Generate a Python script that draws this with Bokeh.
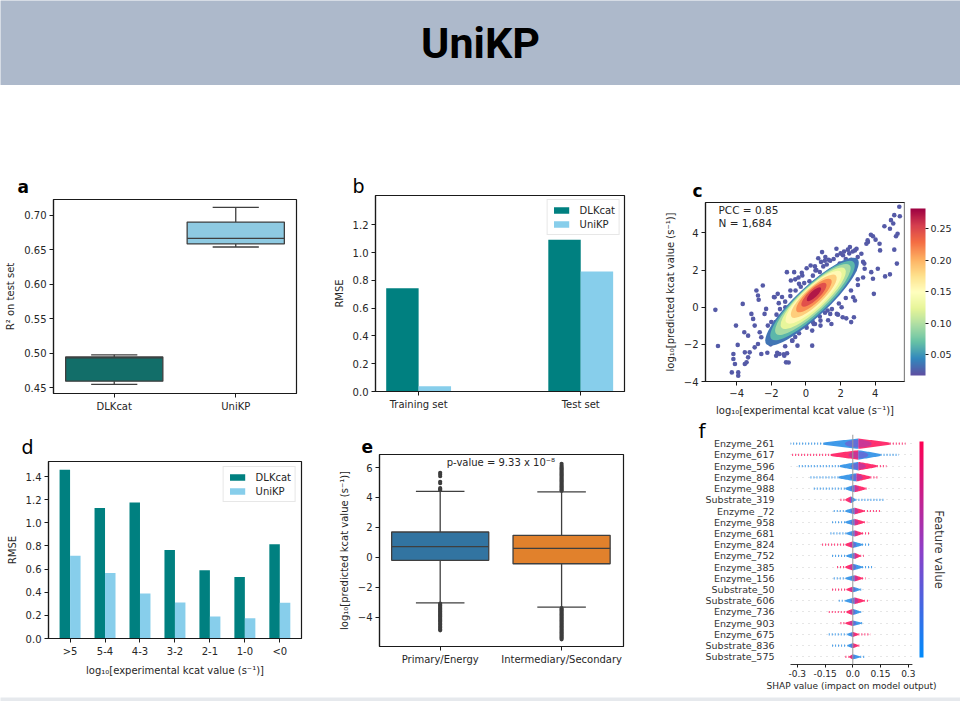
import numpy as np
from bokeh.plotting import figure
from bokeh.layouts import column, row
from bokeh.models import (Label, FixedTicker, ColorBar, LinearColorMapper, Span, Title,
                          ColumnDataSource, NumeralTickFormatter, LinearAxis, ScrollBox)
from bokeh.transform import linear_cmap
from bokeh.embed import file_html
from bokeh.resources import INLINE

FONT = "DejaVu Sans"
INK = "#1a1a1a"
TXT = "#262626"
EDGE = "#3f3f3f"

# ---------------- data ----------------
title_text = "UniKP"

# a: R2 boxplots
a_models = ["DLKcat", "UniKP"]
a_q1 = [0.4596, 0.6587]
a_med = [0.4935, 0.6668]
a_q3 = [0.4948, 0.6905]
a_lo = [0.4548, 0.6543]
a_hi = [0.4978, 0.7118]
a_colors = ["#126e69", "#8ecae2"]

# b: RMSE train / test
b_sets = ["Training set", "Test set"]
b_dlkcat = [0.743, 1.092]
b_unikp = [0.037, 0.863]

# c: density scatter
c_pcc = "0.85"
c_n = "1,684"
c_pts_x = [-5.23, -5.08, -4.28, -3.91, -3.91, -4.19, -4.19, -4.10, -4.04, -3.94,
           -3.53, -3.43, -3.34, -3.56, -3.34, -3.53, -3.25, -3.15, -3.05, -2.96,
           -2.86, -2.77, -2.73, -2.96, -2.77, -2.67, -2.58, -2.49, -2.39, -2.30,
           -2.20, -1.72, -1.53, -1.25, -1.15, -1.81, -1.63, -1.10, -0.68, -0.21,
           -0.87, -0.40, -0.78, -0.49, -2.11, -2.58, -3.65,
           5.39, 5.10, 5.42, 4.91, 5.04, 4.53, 4.85, 5.29, 5.20, 3.87,
           4.02, 4.25, 4.28, 3.58, 3.49, 5.10, 5.25, 4.15, 4.57, 4.85,
           3.92, 2.92, 3.20, 3.30, 3.39, 3.77, 3.87, 2.73, 2.83, 2.77,
           2.06, 2.12, 1.78, 0.93, 1.12, 0.87, 1.31, 0.27, 0.55, 0.17,
           0.45, 0.36, 0.84, 0.84, 0.36, 1.25, 1.40, 2.54, 2.83,
           0.04, 0.52, 0.71, 1.09, 1.47, 1.76, 1.95, 2.14, 2.42, 2.61,
           2.99, 3.37, 3.56, 3.75, 2.99, 2.80, 2.61, 2.33, 1.85, 1.47,
           1.28, 0.52, -0.24, -0.43, -0.62, -0.81, -0.62, -1.19, 0.04, -1.57,
           -1.19, -1.38, -0.90, -0.62, -0.43, -0.24, -1.76, -1.85, -2.04, -2.23,
           -1.00, -1.09, -1.28, -1.66,
           0.40, 0.60, 0.80, 1.00, 1.20, 1.40, 1.60, 1.80, 2.00, 2.20,
           2.30, 2.50, 2.70, 0.20, -0.10, -0.30, -0.60, -0.90, -1.20, -1.50,
           -1.70, -2.00, 0.80, 1.10, 1.50, 1.90, 2.30, 2.60, 3.00, 3.30,
           0.40, 0.00, -0.40, -0.80, -1.20]
c_pts_y = [-0.14, -2.09, -3.51, -3.51, -3.69, -2.52, -2.79, -3.06, -0.99, -2.03,
           -3.06, -2.97, -2.70, -1.35, -1.53, -2.43, -2.43, -0.36, -0.63, -0.99,
           0.90, 0.63, 0.40, -2.16, -1.98, -1.35, -1.62, 1.17, -0.36, -0.09,
           -0.99, -2.61, -2.52, -2.61, -2.97, 0.54, 0.72, 1.89, 1.89, 1.71,
           1.44, 1.26, -1.80, -2.07, -1.71, -2.52, 0.18,
           5.41, 4.96, 4.90, 4.69, 4.51, 4.36, 4.23, 3.96, 3.82, 3.82,
           3.64, 3.42, 3.06, 3.51, 3.42, 3.10, 2.35, 2.07, 1.66, 1.77,
           0.72, 3.15, 2.88, 2.44, 2.07, 1.89, 1.53, 0.54, 0.36, -0.54,
           0.00, -0.54, -0.36, 2.97, 2.70, 2.44, 2.56, 2.25, 1.98, -0.72,
           -0.90, -1.26, -0.72, -0.99, -2.07, -0.18, -0.36, 3.24, 3.06,
           2.10, 2.20, 2.64, 2.50, 2.00, 3.15, 2.35, 2.80, 3.10, 2.55,
           2.70, 2.35, 3.60, 3.90, 1.50, 2.00, -0.80, -0.60, -0.40, -0.90,
           -0.70, -0.90, -0.90, -1.10, -1.60, -1.26, -0.20, -0.40, -1.10, 0.22,
           0.00, 0.55, 0.90, 1.50, 1.60, 1.85, -0.80, 0.55, -2.00, -2.45,
           -2.98, -2.48, -2.53, -2.45,
           1.70, 2.00, 1.90, 2.20, 2.30, 2.50, 2.60, 2.80, 2.90, 3.00,
           2.60, 2.90, 3.00, 1.40, 1.30, 1.10, 0.90, 0.60, 0.30, -0.10,
           -0.40, -0.80, -0.50, -0.30, -0.10, 0.20, 0.50, 0.90, 1.20, 1.60,
           -0.80, -1.00, -1.40, -1.80, -2.10]
# density levels of the dense core (nested ellipses)
c_lvl = [0.035, 0.065, 0.095, 0.125, 0.155, 0.185, 0.215, 0.245, 0.272]
c_cx = [0.35, 0.38, 0.40, 0.42, 0.44, 0.45, 0.46, 0.46, 0.46]
c_cy = [0.30, 0.36, 0.42, 0.48, 0.54, 0.59, 0.63, 0.67, 0.70]
c_major = [7.2, 6.5, 5.8, 5.0, 4.3, 3.5, 2.7, 1.9, 1.1]
c_minor = [1.65, 1.52, 1.38, 1.25, 1.10, 0.95, 0.78, 0.58, 0.35]
c_angle = [43, 43, 43, 43, 43, 43, 43, 43, 43]
c_ticks = [0.05, 0.10, 0.15, 0.20, 0.25]

# d: RMSE by kcat bin
d_bins = [">5", "5-4", "4-3", "3-2", "2-1", "1-0", "<0"]
d_dlkcat = [1.458, 1.128, 1.176, 0.765, 0.589, 0.532, 0.814]
d_unikp = [0.716, 0.567, 0.388, 0.311, 0.190, 0.175, 0.308]

# e: predicted kcat by pathway type
e_groups = ["Primary/Energy", "Intermediary/Secondary"]
e_q1 = [-0.20, -0.43]
e_med = [0.71, 0.60]
e_q3 = [1.69, 1.47]
e_lo = [-3.04, -3.33]
e_hi = [4.41, 4.37]
e_colors = ["#3274a1", "#e1812c"]
e_out_prim = [5.65, 5.55, 5.42, 5.05, 4.95, 4.62, 4.55, 4.48,
              -3.10, -3.18, -3.26, -3.34, -3.42, -3.50, -3.58, -3.66, -3.74, -3.82,
              -3.90, -3.98, -4.06, -4.14, -4.22, -4.30, -4.40, -4.50, -4.60, -4.70,
              -4.80, -4.88]
e_out_int = [6.25, 6.12, 6.02, 5.94, 5.86, 5.78, 5.70, 5.62, 5.54, 5.46, 5.38, 5.30,
             5.22, 5.14, 5.06, 4.98, 4.90, 4.82, 4.74, 4.66, 4.58, 4.50, 4.44,
             -3.40, -3.48, -3.56, -3.64, -3.72, -3.80, -3.88, -3.96, -4.04, -4.12,
             -4.20, -4.28, -4.36, -4.44, -4.52, -4.60, -4.68, -4.76, -4.84, -4.92,
             -5.00, -5.08, -5.16, -5.24, -5.32, -5.40, -5.48]
e_pvalue = "p-value = 9.33 x 10\u207b\u2078"

# f: SHAP summary
f_features = ["Enzyme_261", "Enzyme_617", "Enzyme_596", "Enzyme_864", "Enzyme_988",
              "Substrate_319", "Enzyme _72", "Enzyme_958", "Enzyme_681", "Enzyme_824",
              "Enzyme_752", "Enzyme_385", "Enzyme_156", "Substrate_50", "Substrate_606",
              "Enzyme_736", "Enzyme_903", "Enzyme_675", "Substrate_836", "Substrate_575"]
f_min = [-0.355, -0.328, -0.292, -0.229, -0.211, -0.067, -0.103, -0.112, -0.121, -0.166,
         -0.112, -0.085, -0.103, -0.112, -0.076, -0.130, -0.067, -0.130, -0.112, -0.040]
f_max = [0.285, 0.249, 0.182, 0.140, 0.081, 0.176, 0.149, 0.078, 0.096, 0.096,
         0.060, 0.105, 0.069, 0.051, 0.087, 0.051, 0.051, 0.096, 0.040, 0.069]
f_core_lo = [-0.16, -0.12, -0.07, -0.076, -0.04, -0.04, -0.04, -0.04, -0.035, -0.04,
             -0.035, -0.04, -0.04, -0.035, -0.04, -0.035, -0.04, -0.03, -0.03, -0.02]
f_core_hi = [0.20, 0.15, 0.13, 0.095, 0.069, 0.014, 0.06, 0.06, 0.05, 0.05,
             0.04, 0.05, 0.05, 0.04, 0.06, 0.04, 0.045, 0.03, 0.03, 0.04]
f_peak = [0.03, 0.03, 0.03, 0.02, 0.01, -0.01, 0.01, 0.01, 0.01, 0.0,
          0.01, 0.0, 0.01, 0.0, 0.01, 0.0, 0.0, 0.0, 0.0, 0.0]
f_half_h = [0.46, 0.42, 0.38, 0.37, 0.33, 0.30, 0.30, 0.30, 0.28, 0.30,
            0.28, 0.30, 0.28, 0.25, 0.30, 0.28, 0.25, 0.23, 0.23, 0.23]
f_low_side = ["B", "R", "B", "B", "B", "R", "B", "B", "B", "R",
              "B", "R", "B", "R", "B", "R", "R", "B", "B", "R"]
f_ticks = [-0.3, -0.15, 0.0, 0.15, 0.3]
f_tick_labels = ["-0.3", "-0.15", "0.0", "0.15", "0.3"]


# ---------------- helpers ----------------
def interp_palette(anchors, n=256):
    rgb = np.array([[int(c[i:i + 2], 16) for i in (1, 3, 5)] for c in anchors], float)
    t = np.linspace(0, 1, len(anchors))
    out = []
    for v in np.linspace(0, 1, n):
        r, g, b = (int(round(np.interp(v, t, rgb[:, k]))) for k in range(3))
        out.append("#%02x%02x%02x" % (r, g, b))
    return out


SPECTRAL_R = interp_palette(["#5e4fa2", "#3288bd", "#66c2a5", "#abdda4", "#e6f598", "#ffffbf",
                             "#fee08b", "#fdae61", "#f46d43", "#d53e4f", "#9e0142"])
SHAP_PAL = interp_palette(["#008bfb", "#8f3fc7", "#ff0052"])
B_COL, R_COL, P_COL = "#1e88e5", "#ff0d57", "#8a3fc4"


def base_fig(w, h, l, r, t, b, xr, yr):
    p = figure(width=w, height=h, x_range=xr, y_range=yr, title=None,
               output_backend="svg", toolbar_location=None,
               min_border_left=l, min_border_right=r, min_border_top=t, min_border_bottom=b)
    p.grid.visible = False
    p.outline_line_color = INK
    p.outline_line_width = 1.2
    p.background_fill_color = "white"
    p.border_fill_color = "white"
    for ax in p.axis:
        ax.axis_line_color = INK
        ax.axis_line_width = 1.2
        ax.major_tick_line_color = INK
        ax.major_tick_in = 0
        ax.major_tick_out = 4
        ax.minor_tick_line_color = None
        ax.major_label_text_font = FONT
        ax.major_label_text_font_size = "10px"
        ax.major_label_text_color = TXT
        ax.major_label_standoff = 3
        ax.axis_label_text_font = FONT
        ax.axis_label_text_font_size = "10px"
        ax.axis_label_text_font_style = "normal"
        ax.axis_label_text_color = TXT
        ax.axis_label_standoff = 5
    return p


def letter(p, txt, bold, size, offset, standoff, valign="bottom"):
    p.add_layout(Title(text=txt, align="left", offset=offset, standoff=standoff,
                       vertical_align=valign, text_font=FONT, text_font_size=size,
                       text_font_style="bold" if bold else "normal", text_color="black"),
                 "above")


def boxes(p, pos, q1, med, q3, lo, hi, colors, width, capw):
    src = ColumnDataSource(dict(x=pos, q1=q1, med=med, q3=q3, lo=lo, hi=hi, c=colors,
                                xl=[v - width / 2 for v in pos], xr=[v + width / 2 for v in pos],
                                cl=[v - capw / 2 for v in pos], cr=[v + capw / 2 for v in pos]))
    kw = dict(source=src, line_color=EDGE, line_width=1.3)
    p.segment("x", "lo", "x", "q1", **kw)
    p.segment("x", "q3", "x", "hi", **kw)
    p.segment("cl", "lo", "cr", "lo", **kw)
    p.segment("cl", "hi", "cr", "hi", **kw)
    p.vbar(x="x", width=width, bottom="q1", top="q3", fill_color="c", **kw)
    p.segment("xl", "med", "xr", "med", **kw)


def style_legend(p, margin):
    lg = p.legend[0]
    lg.location = "top_right"
    lg.margin = margin
    lg.padding = 4
    lg.spacing = 2
    lg.glyph_width = 19
    lg.glyph_height = 8
    lg.label_height = 12
    lg.label_standoff = 9
    lg.label_text_font = FONT
    lg.label_text_font_size = "10px"
    lg.label_text_color = TXT
    lg.border_line_color = "#d0d0d0"
    lg.border_line_width = 1
    lg.background_fill_alpha = 0.9


def wrap(p):
    return ScrollBox(child=p, width=p.width, height=p.height,
                     horizontal_scrollbar="hidden", vertical_scrollbar="hidden")


# ---------------- header ----------------
ph = figure(width=960, height=85, x_range=(0, 1), y_range=(0, 1), title=None,
            output_backend="svg", toolbar_location=None, x_axis_type=None, y_axis_type=None,
            min_border=0)
ph.grid.visible = False
ph.outline_line_color = None
ph.background_fill_color = "#adb9cb"
ph.border_fill_color = "#adb9cb"
ph.add_layout(Label(x=0.5, y=0.5, text=title_text, text_font="Roboto",
                    text_font_size="43px", text_font_style="bold", text_color="black",
                    text_align="center", text_baseline="middle"))

# ---------------- panel a ----------------
pa = base_fig(330, 335, 53, 34, 114, 27, (-0.5, 1.5), (0.4417, 0.7232))
a_pos = list(range(len(a_models)))
boxes(pa, a_pos, a_q1, a_med, a_q3, a_lo, a_hi, a_colors, 0.8, 0.38)
pa.xaxis.ticker = FixedTicker(ticks=a_pos)
pa.xaxis.major_label_overrides = {i: m for i, m in enumerate(a_models)}
pa.yaxis.ticker = FixedTicker(ticks=[0.45, 0.50, 0.55, 0.60, 0.65, 0.70])
pa.yaxis.formatter = NumeralTickFormatter(format="0.00")
pa.yaxis.axis_label = "R\u00b2 on test set"
letter(pa, "a", True, "17px", -36, 6)

# ---------------- panel b ----------------
pb = base_fig(310, 335, 44, 16, 110, 29, (-0.266, 1.27), (0, 1.411))
b_pos = list(range(len(b_sets)))
pb.vbar(x=[v - 0.1 for v in b_pos], top=b_dlkcat, width=0.2, fill_color="#008080",
        line_color=None, legend_label="DLKcat")
pb.vbar(x=[v + 0.1 for v in b_pos], top=b_unikp, width=0.2, fill_color="#87ceeb",
        line_color=None, legend_label="UniKP")
pb.xaxis.ticker = FixedTicker(ticks=b_pos)
pb.xaxis.major_label_overrides = {i: s for i, s in enumerate(b_sets)}
pb.yaxis.ticker = FixedTicker(ticks=[0.0, 0.2, 0.4, 0.6, 0.8, 1.0, 1.2])
pb.yaxis.formatter = NumeralTickFormatter(format="0.0")
pb.yaxis.axis_label = "RMSE"
style_legend(pb, 4)
letter(pb, "b", False, "19px", -23, -3)

# ---------------- panel c ----------------
pc = base_fig(320, 335, 65, 53, 117, 39, (-5.8, 5.69), (-4.0, 5.64))
cmap = LinearColorMapper(palette=SPECTRAL_R, low=0.017, high=0.282)
pc.scatter(c_pts_x, c_pts_y, size=4.6, fill_color=SPECTRAL_R[5], line_color=None)
csrc = ColumnDataSource(dict(x=c_cx, y=c_cy, w=c_major, h=c_minor, a=c_angle, lvl=c_lvl))
pc.ellipse(x="x", y="y", width="w", height="h", angle="a", angle_units="deg", source=csrc,
           fill_color=linear_cmap("lvl", SPECTRAL_R, 0.017, 0.282), line_color=None)
for ax in (pc.xaxis, pc.yaxis):
    ax.ticker = FixedTicker(ticks=[-4, -2, 0, 2, 4])
    ax.major_label_overrides = {-4: "\u22124", -2: "\u22122", 0: "0", 2: "2", 4: "4"}
pc.yaxis.axis_label = "log\u2081\u2080[predicted kcat value (s\u207b\u00b9)]"
pc.xaxis.axis_label = "log\u2081\u2080[experimental kcat value (s\u207b\u00b9)]"
pc.add_layout(Label(x=-5.05, y=5.26, text="PCC = " + c_pcc, text_font=FONT, text_font_size="10.5px",
                    text_color=TXT, text_baseline="middle"))
pc.add_layout(Label(x=-5.05, y=4.52, text="N = " + c_n, text_font=FONT, text_font_size="10.5px",
                    text_color=TXT, text_baseline="middle"))
cb = ColorBar(color_mapper=cmap, width=15, ticker=FixedTicker(ticks=c_ticks),
              formatter=NumeralTickFormatter(format="0.00"), major_label_text_font=FONT,
              major_label_text_font_size="9.5px", major_label_text_color=TXT,
              major_tick_in=0, major_tick_out=3, major_tick_line_color=INK,
              bar_line_color=None, padding=6, margin=0, label_standoff=2)
pc.add_layout(cb, "right")
letter(pc, "c", True, "17px", -13, 4)

# ---------------- panel d ----------------
pd_ = base_fig(330, 273, 48, 29, 41, 55, (-0.617, 6.62), (0, 1.53))
d_pos = list(range(len(d_bins)))
pd_.vbar(x=[v - 0.15 for v in d_pos], top=d_dlkcat, width=0.3, fill_color="#008080",
         line_color=None, legend_label="DLKcat")
pd_.vbar(x=[v + 0.15 for v in d_pos], top=d_unikp, width=0.3, fill_color="#87ceeb",
         line_color=None, legend_label="UniKP")
pd_.xaxis.ticker = FixedTicker(ticks=d_pos)
pd_.xaxis.major_label_overrides = {i: s for i, s in enumerate(d_bins)}
pd_.yaxis.ticker = FixedTicker(ticks=[0.0, 0.2, 0.4, 0.6, 0.8, 1.0, 1.2, 1.4])
pd_.yaxis.formatter = NumeralTickFormatter(format="0.0")
pd_.yaxis.axis_label = "RMSE"
pd_.xaxis.axis_label = "log\u2081\u2080[experimental kcat value (s\u207b\u00b9)]"
style_legend(pd_, 5)
letter(pd_, "d", False, "19px", -27, 8)

# ---------------- panel e ----------------
pe = base_fig(360, 273, 49, 67, 34, 47, (-0.5, 1.51), (-5.96, 6.87))
e_pos = list(range(len(e_groups)))
pe.scatter([e_pos[0]] * len(e_out_prim), e_out_prim, size=4.2, fill_color="#3d3d3d", line_color=None)
pe.scatter([e_pos[1]] * len(e_out_int), e_out_int, size=4.2, fill_color="#3d3d3d", line_color=None)
boxes(pe, e_pos, e_q1, e_med, e_q3, e_lo, e_hi, e_colors, 0.8, 0.4)
pe.xaxis.ticker = FixedTicker(ticks=e_pos)
pe.xaxis.major_label_overrides = {i: g for i, g in enumerate(e_groups)}
pe.yaxis.ticker = FixedTicker(ticks=[-4, -2, 0, 2, 4, 6])
pe.yaxis.major_label_overrides = {-4: "\u22124", -2: "\u22122", 0: "0", 2: "2", 4: "4", 6: "6"}
pe.yaxis.axis_label = "log\u2081\u2080[predicted kcat value (s\u207b\u00b9)]"
pe.add_layout(Label(x=0.5, y=6.31, text=e_pvalue, text_font=FONT, text_font_size="10px",
                    text_color=TXT, text_align="center", text_baseline="middle"))
letter(pe, "e", True, "17px", -18, 4)

# ---------------- panel f ----------------
pf = base_fig(270, 273, 100, 48, 14, 27, (-0.3368, 0.3227), (-0.68, 19.82))
pf.outline_line_color = None
n_f = len(f_features)
f_y = [n_f - 1 - i for i in range(n_f)]
pf.ygrid.visible = True
pf.ygrid.ticker = FixedTicker(ticks=f_y)
pf.ygrid.grid_line_color = "#cccccc"
pf.ygrid.grid_line_dash = "1 5"
pf.ygrid.grid_line_width = 1
pf.add_layout(Span(location=0, dimension="height", line_color="#999999", line_width=1))
low_cols = [B_COL if s == "B" else R_COL for s in f_low_side]
high_cols = [R_COL if s == "B" else B_COL for s in f_low_side]
pf.segment(x0=f_min, y0=f_y, x1=f_core_lo, y1=f_y, line_color=low_cols, line_width=2.2,
           line_dash="1 2", line_alpha=0.8)
pf.segment(x0=f_core_hi, y0=f_y, x1=f_max, y1=f_y, line_color=high_cols, line_width=2.2,
           line_dash="1 2", line_alpha=0.8)
pxs, pys, pcs = [], [], []
t = np.linspace(0, 1, 18)
for i, yv in enumerate(f_y):
    w = f_half_h[i] * (0.2 + 0.8 * t ** 0.9)
    for tip, col in ((f_core_lo[i], low_cols[i]), (f_core_hi[i], high_cols[i])):
        xx = tip + t * (f_peak[i] - tip)
        pxs.append(list(xx) + list(xx[::-1]))
        pys.append(list(yv + w) + list((yv - w)[::-1]))
        pcs.append(col)
pf.patches(pxs, pys, fill_color=pcs, line_color=None, fill_alpha=0.85)
pf.ellipse(x=f_peak, y=f_y, width=[0.4 * (h - l) for h, l in zip(f_core_hi, f_core_lo)],
           height=[1.5 * h for h in f_half_h], fill_color=P_COL, fill_alpha=0.45, line_color=None)
pf.yaxis.ticker = FixedTicker(ticks=f_y)
pf.yaxis.major_label_overrides = {y: n for y, n in zip(f_y, f_features)}
pf.yaxis.axis_line_color = None
pf.yaxis.major_tick_line_color = None
pf.yaxis.major_label_standoff = 12
pf.yaxis.major_label_text_font_size = "9.5px"
pf.yaxis.major_label_text_color = "#333333"
pf.xaxis.ticker = FixedTicker(ticks=f_ticks)
pf.xaxis.major_label_overrides = {v: s for v, s in zip(f_ticks, f_tick_labels)}
pf.xaxis.major_label_text_font_size = "9px"
pf.xaxis.major_tick_out = 3
pf.xaxis.major_label_standoff = 2
pf.xaxis.axis_label = "SHAP value (impact on model output)"
pf.xaxis.axis_label_text_font_size = "9px"
pf.xaxis.axis_label_standoff = 1
pf.xaxis.axis_line_color = "#333333"
fcb = ColorBar(color_mapper=LinearColorMapper(palette=SHAP_PAL, low=0, high=1), width=4,
               ticker=FixedTicker(ticks=[]), major_tick_line_color=None, bar_line_color=None,
               padding=7, margin=0)
pf.add_layout(fcb, "right")
fax = LinearAxis(ticker=FixedTicker(ticks=[]), axis_line_color=None, major_tick_line_color=None,
                 minor_tick_line_color=None, axis_label="Feature value",
                 axis_label_text_font=FONT, axis_label_text_font_size="11.5px",
                 axis_label_text_font_style="normal", axis_label_text_color="#333333",
                 axis_label_standoff=1)
pf.add_layout(fax, "right")
letter(pf, "f", False, "20px", -92, -20, "top")

# thin grey strip at the slide's lower edge
pz = figure(width=960, height=8, title=None, output_backend="svg", toolbar_location=None,
            x_axis_type=None, y_axis_type=None, min_border=0)
pz.grid.visible = False
pz.outline_line_color = None
pz.background_fill_color = "#e6e9ed"
pz.border_fill_color = "#e6e9ed"

layout = column(ph, row(wrap(pa), wrap(pb), wrap(pc)), row(wrap(pd_), wrap(pe), wrap(pf)), pz)
open("out.html", "w").write(file_html(layout, INLINE))
